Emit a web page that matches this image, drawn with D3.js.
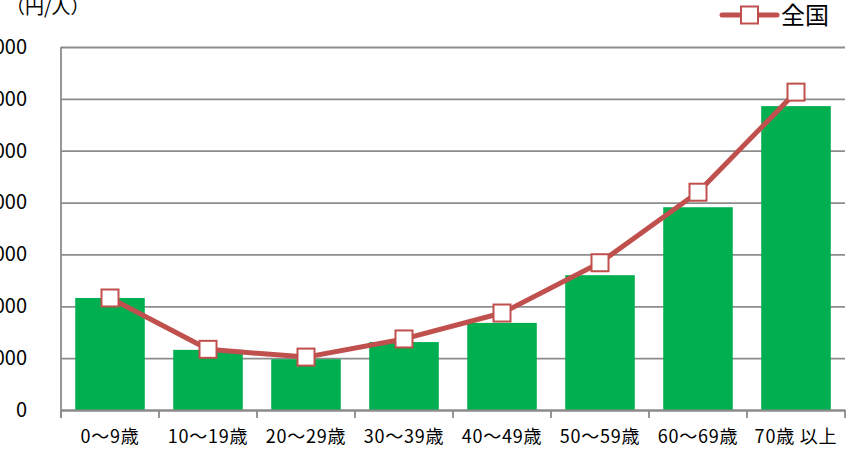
<!DOCTYPE html>
<html>
<head>
<meta charset="utf-8">
<script src="https://cdn.jsdelivr.net/npm/d3@7"></script>
<style>
  body { margin: 0; background: #fff; }
  svg { display: block; }
  svg text { font-family: "Noto Sans CJK JP", "Noto Sans", sans-serif; }
</style>
</head>
<body>
<svg id="chart" width="850" height="450"></svg>
<script>
// age groups and values (円/人)
const ageGroups = ["0～9歳", "10～19歳", "20～29歳", "30～39歳", "40～49歳", "50～59歳", "60～69歳", "70歳 以上"];
const barValues = [21600, 11600, 9800, 13100, 16800, 26000, 39100, 58600];
const nationalValues = [21600, 11700, 10200, 13700, 18700, 28400, 42000, 61300];
const yTicks = [0, 10000, 20000, 30000, 40000, 50000, 60000, 70000];

const svg = d3.select("#chart"),
    margin = {top: 47, right: 5, bottom: 40, left: 61},
    width = +svg.attr("width") - margin.left - margin.right,
    height = +svg.attr("height") - margin.top - margin.bottom,
    g = svg.append("g").attr("transform", "translate(" + margin.left + "," + margin.top + ")");

const x = d3.scaleBand()
    .domain(ageGroups)
    .range([0, width])
    .paddingInner(0.29)
    .paddingOuter(0.145);

const y = d3.scaleLinear()
    .domain([0, 70000])
    .range([height, 0]);

const gridColor = "#8c8c8c";

// gridlines + y labels
const yAxis = g.append("g")
    .call(d3.axisLeft(y).tickValues(yTicks).tickSize(8).tickFormat(d3.format(",")));
yAxis.select(".domain").remove();
yAxis.selectAll(".tick line").attr("stroke", gridColor).attr("stroke-width", 1.8)
    .attr("x2", width);
yAxis.selectAll(".tick text")
    .attr("x", -34)
    .attr("fill", "#000")
    .style("font-size", "20px");

// y axis line
g.append("line")
    .attr("x1", 0).attr("x2", 0)
    .attr("y1", 0).attr("y2", height + 8)
    .attr("stroke", gridColor).attr("stroke-width", 1.8);

// bars
g.selectAll(".bar")
  .data(barValues)
  .enter().append("rect")
    .attr("class", "bar")
    .attr("x", (d, i) => x(ageGroups[i]))
    .attr("y", d => y(d))
    .attr("width", x.bandwidth())
    .attr("height", d => y(0) - y(d))
    .attr("fill", "#00b050");

// x axis
const xAxis = g.append("g")
    .attr("transform", "translate(0," + height + ")")
    .call(d3.axisBottom(x).tickSize(0).tickPadding(20));
xAxis.select(".domain").attr("stroke", gridColor).attr("stroke-width", 1.8);
xAxis.selectAll(".tick text").attr("fill", "#000")
    .style("font-size", "18px")
    .style("letter-spacing", "0.8px");

const step = x.step();
g.selectAll(".xtick")
  .data(d3.range(ageGroups.length + 1))
  .enter().append("line")
    .attr("x1", i => Math.min(i * step, width))
    .attr("x2", i => Math.min(i * step, width))
    .attr("y1", height)
    .attr("y2", height + 8)
    .attr("stroke", gridColor).attr("stroke-width", 1.8);

// national line
const cx = (d, i) => x(ageGroups[i]) + x.bandwidth() / 2;
const line = d3.line()
    .x(cx)
    .y(d => y(d));

g.append("path")
    .datum(nationalValues)
    .attr("fill", "none")
    .attr("stroke", "#c0504d")
    .attr("stroke-width", 5)
    .attr("stroke-linejoin", "round")
    .attr("d", line);

const ms = 17;
g.selectAll(".marker")
  .data(nationalValues)
  .enter().append("rect")
    .attr("class", "marker")
    .attr("x", (d, i) => cx(d, i) - ms / 2)
    .attr("y", d => y(d) - ms / 2)
    .attr("width", ms)
    .attr("height", ms)
    .attr("fill", "#fff")
    .attr("stroke", "#c0504d")
    .attr("stroke-width", 2);

// unit label
svg.append("text")
    .attr("x", 6)
    .attr("y", 14)
    .attr("fill", "#000")
    .style("font-size", "19px")
    .text("（円/人）");

// legend
const lg = svg.append("g").attr("transform", "translate(722,15)");
lg.append("line")
    .attr("x1", 0).attr("x2", 55)
    .attr("stroke", "#c0504d").attr("stroke-width", 5)
    .attr("stroke-linecap", "round");
lg.append("rect")
    .attr("x", 27.5 - ms / 2).attr("y", -ms / 2)
    .attr("width", ms).attr("height", ms)
    .attr("fill", "#fff").attr("stroke", "#c0504d").attr("stroke-width", 2);
lg.append("text")
    .attr("x", 59)
    .attr("y", 9)
    .attr("fill", "#000")
    .style("font-size", "24px")
    .text("全国");
</script>
</body>
</html>
